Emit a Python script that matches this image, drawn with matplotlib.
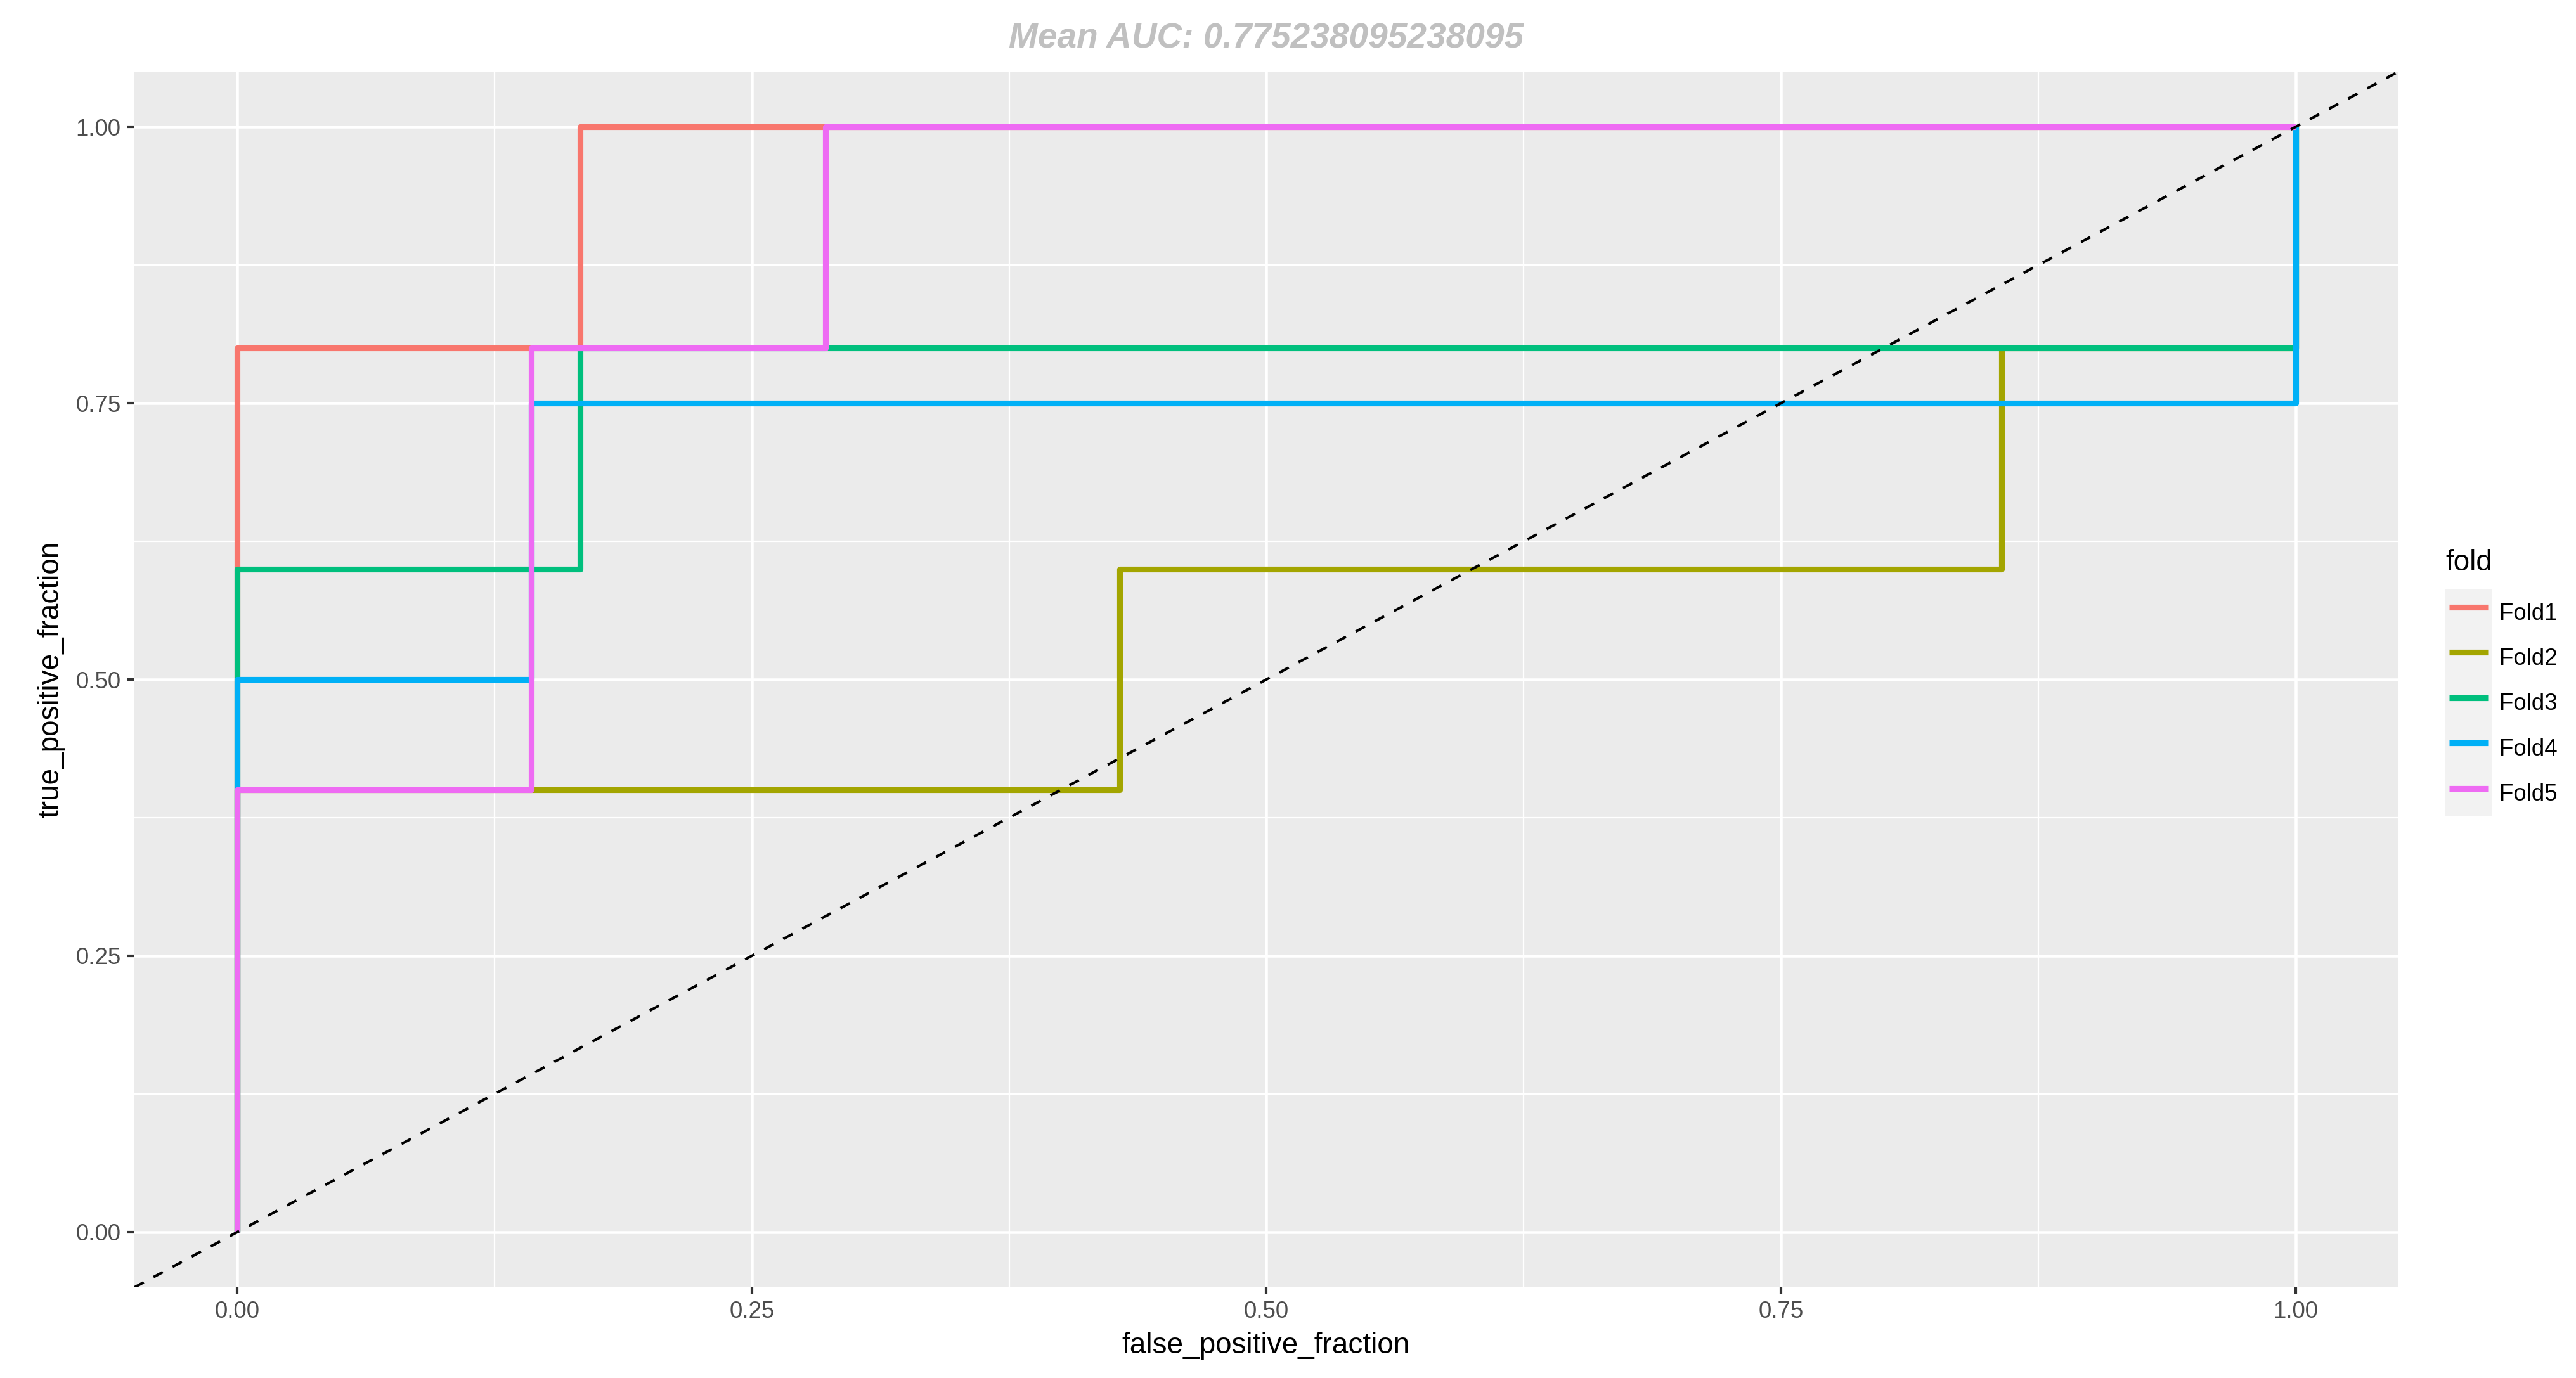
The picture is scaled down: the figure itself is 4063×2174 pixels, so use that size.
import matplotlib
matplotlib.use('Agg')
import matplotlib.pyplot as plt
from matplotlib.patches import Rectangle
from matplotlib.ticker import FixedLocator

plt.rcParams['font.family'] = ['Liberation Sans', 'DejaVu Sans']

# data: ROC corner points per fold
folds = ['Fold1', 'Fold2', 'Fold3', 'Fold4', 'Fold5']
fold_colors = ['#F8766D', '#A3A500', '#00BF7D', '#00B0F6', '#EE6BF3']

fold1_fpr = [0, 0, 1/6, 1/6, 1]
fold1_tpr = [0, 0.8, 0.8, 1.0, 1.0]
fold2_fpr = [0, 0, 3/7, 3/7, 6/7, 6/7, 1, 1]
fold2_tpr = [0, 0.4, 0.4, 0.6, 0.6, 0.8, 0.8, 1.0]
fold3_fpr = [0, 0, 1/6, 1/6, 1, 1]
fold3_tpr = [0, 0.6, 0.6, 0.8, 0.8, 1.0]
fold4_fpr = [0, 0, 1/7, 1/7, 1, 1]
fold4_tpr = [0, 0.5, 0.5, 0.75, 0.75, 1.0]
fold5_fpr = [0, 0, 1/7, 1/7, 2/7, 2/7, 1]
fold5_tpr = [0, 0.4, 0.4, 0.8, 0.8, 1.0, 1.0]

mean_auc = 0.775238095238095
major_ticks = [0, 0.25, 0.5, 0.75, 1.0]
minor_ticks = [0.125, 0.375, 0.625, 0.875]
tick_labels = ['0.00', '0.25', '0.50', '0.75', '1.00']

fprs = [fold1_fpr, fold2_fpr, fold3_fpr, fold4_fpr, fold5_fpr]
tprs = [fold1_tpr, fold2_tpr, fold3_tpr, fold4_tpr, fold5_tpr]

# figure geometry (pixels of the 4063x2174 output)
W, H = 4063, 2174
DPI = 300


def fx(px):
    return px / W


def fy(py):
    return 1 - py / H


fig = plt.figure(figsize=(W / DPI, H / DPI), dpi=DPI, facecolor='white')
ax = fig.add_axes([fx(212), fy(2031), (3783 - 212) / W, (2031 - 113) / H])
ax.set_facecolor('#EBEBEB')
for s in ax.spines.values():
    s.set_visible(False)

ax.set_xlim(-0.05, 1.05)
ax.set_ylim(-0.05, 1.05)
ax.set_xticks(major_ticks)
ax.set_xticklabels(tick_labels)
ax.set_yticks(major_ticks)
ax.set_yticklabels(tick_labels)
ax.xaxis.set_minor_locator(FixedLocator(minor_ticks))
ax.yaxis.set_minor_locator(FixedLocator(minor_ticks))
ax.grid(which='major', color='white', linewidth=1.1)
ax.grid(which='minor', color='white', linewidth=0.55)
ax.set_axisbelow(True)
ax.tick_params(which='major', length=2.75, width=1.0, color='#333333',
               labelcolor='#4D4D4D', labelsize=8.8, pad=2.4)
ax.tick_params(which='minor', length=0)

lines = []
for name, col, x, y in zip(folds, fold_colors, fprs, tprs):
    ln, = ax.plot(x, y, color=col, linewidth=2.2, solid_joinstyle='round',
                  solid_capstyle='butt', label=name, zorder=3)
    lines.append(ln)

diag = ax.axline((0, 0), (1, 1), color='black', linewidth=1.0, zorder=4)
diag.set_dashes((4.0, 4.2))

# titles
fig.text(fx(1997), fy(75), f'Mean AUC: {mean_auc}', ha='center', va='baseline',
         fontsize=13.2, fontweight='bold', fontstyle='italic', color='#C0C0C0')
fig.text(fx(1997), fy(2135), 'false_positive_fraction', ha='center', va='baseline',
         fontsize=11, color='black')
fig.text(fx(80), fy(1072), 'true_positive_fraction', ha='center', va='center',
         rotation=90, fontsize=11, color='black')

# legend
fig.text(fx(3857), fy(900), 'fold', ha='left', va='baseline', fontsize=11, color='black')
leg = fig.legend(handles=lines, labels=folds, loc='upper left',
                 bbox_to_anchor=(fx(3863), fy(938)), frameon=False,
                 borderpad=0, borderaxespad=0, labelspacing=0.43,
                 handlelength=1.66, handleheight=1.96, handletextpad=0.5,
                 fontsize=8.8)

fig.canvas.draw()
lb = leg.get_window_extent()
hx0 = min(l.get_window_extent().x0 for l in leg.get_lines())
hx1 = max(l.get_window_extent().x1 for l in leg.get_lines())
fig.patches.append(Rectangle((hx0 - 6, lb.y0 - 8), (hx1 - hx0) + 12, lb.height + 16,
                             transform=None, facecolor='#F2F2F2',
                             edgecolor='none', zorder=1))

fig.savefig('out.png', dpi=DPI, facecolor='white')
